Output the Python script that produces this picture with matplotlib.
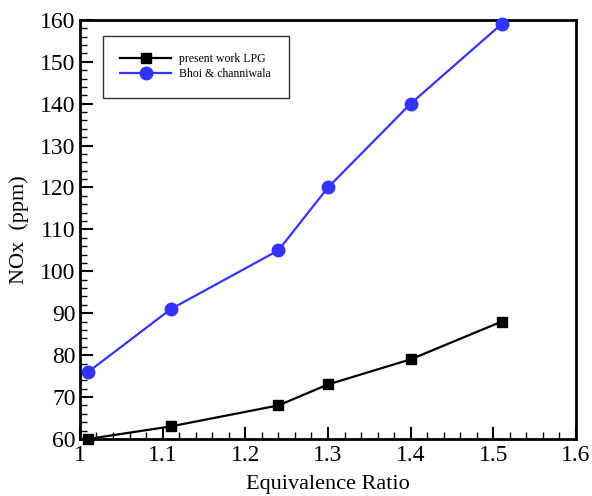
import matplotlib
matplotlib.use("Agg")
import matplotlib.pyplot as plt
from matplotlib.ticker import MultipleLocator

plt.rcParams['font.family'] = ['Liberation Serif', 'DejaVu Serif']

# data
phi_lpg = [1.01, 1.11, 1.24, 1.30, 1.40, 1.51]
nox_lpg = [60, 63, 68, 73, 79, 88]
phi_bhoi = [1.01, 1.11, 1.24, 1.30, 1.40, 1.51]
nox_bhoi = [76, 91, 105, 120, 140, 159]

fig = plt.figure(figsize=(5.92, 4.96), dpi=100)
ax = fig.add_axes([0.135, 0.115, 0.838, 0.845])

ax.plot(phi_lpg, nox_lpg, color='black', marker='s', markersize=7, lw=1.6,
        label='present work LPG', clip_on=False, zorder=3)
ax.plot(phi_bhoi, nox_bhoi, color='#3333ff', marker='o', markersize=9, lw=1.6,
        label='Bhoi & channiwala', clip_on=False, zorder=3)

ax.set_xlim(1, 1.6)
ax.set_ylim(60, 160)
ax.xaxis.set_minor_locator(MultipleLocator(0.02))
ax.yaxis.set_major_locator(MultipleLocator(10))
ax.yaxis.set_minor_locator(MultipleLocator(2))
ax.set_xticks([1, 1.1, 1.2, 1.3, 1.4, 1.5, 1.6])
ax.set_xticklabels(['1', '1.1', '1.2', '1.3', '1.4', '1.5', '1.6'])
ax.tick_params(which='both', direction='in', top=False, right=False,
               labelsize=17, width=1.5)
ax.tick_params(axis='x', pad=4)
ax.tick_params(axis='y', pad=3)
ax.tick_params(which='major', length=9)
ax.tick_params(which='minor', length=5, width=1)
for s in ax.spines.values():
    s.set_linewidth(2)

ax.set_xlabel('Equivalence Ratio', fontsize=16, labelpad=7)
ax.set_ylabel('NOx  (ppm)', fontsize=16, labelpad=8)

leg = ax.legend(loc='upper left', bbox_to_anchor=(0.046, 0.962), fontsize=8.5,
                frameon=True, fancybox=False, edgecolor='black',
                handlelength=4.3, borderpad=1.5, borderaxespad=0,
                labelspacing=0.2, handletextpad=0.7, markerscale=1.0)
leg.get_frame().set_linewidth(1)

fig.savefig('out.png', dpi=100)
